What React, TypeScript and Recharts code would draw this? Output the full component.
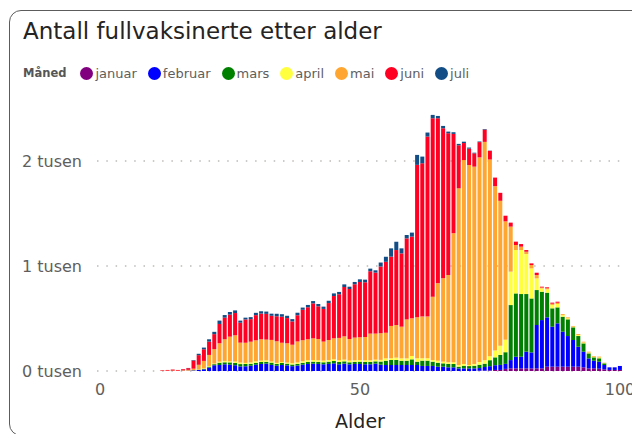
import React from 'react';
import { BarChart, Bar, XAxis, YAxis, CartesianGrid } from 'recharts';

const ages = [12, 13, 14, 15, 16, 17, 18, 19, 20, 21, 22, 23, 24, 25, 26, 27, 28, 29, 30, 31, 32, 33, 34, 35, 36, 37, 38, 39, 40, 41, 42, 43, 44, 45, 46, 47, 48, 49, 50, 51, 52, 53, 54, 55, 56, 57, 58, 59, 60, 61, 62, 63, 64, 65, 66, 67, 68, 69, 70, 71, 72, 73, 74, 75, 76, 77, 78, 79, 80, 81, 82, 83, 84, 85, 86, 87, 88, 89, 90, 91, 92, 93, 94, 95, 96, 97, 98, 99, 100];

const januar = [0, 0, 0, 0, 0, 0, 0, 0, 0, 0, 0, 0, 0, 0, 0, 0, 0, 0, 0, 0, 0, 0, 0, 0, 0, 0, 0, 0, 0, 0, 0, 0, 0, 0, 0, 0, 0, 0, 0, 0, 0, 0, 0, 0, 0, 0, 0, 0, 0, 0, 0, 0, 0, 0, 0, 0, 0, 0, 0, 0, 0, 3, 3, 5, 10, 10, 20, 25, 25, 25, 25, 25, 25, 25, 41, 41, 41, 41, 41, 41, 41, 35, 25, 25, 22, 16, 10, 10, 10];
const februar = [0, 0, 0, 0, 2, 3, 5, 10, 16, 32, 55, 57, 64, 60, 55, 44, 45, 50, 60, 67, 70, 58, 50, 57, 54, 46, 52, 60, 67, 70, 67, 64, 67, 73, 64, 70, 64, 67, 67, 64, 64, 70, 60, 57, 57, 57, 57, 57, 57, 57, 48, 48, 48, 41, 41, 35, 35, 25, 25, 25, 25, 25, 35, 41, 45, 48, 48, 79, 111, 111, 159, 152, 413, 460, 470, 381, 413, 333, 292, 254, 190, 149, 95, 73, 67, 41, 25, 25, 38];
const mars = [0, 0, 0, 0, 0, 0, 2, 2, 5, 10, 10, 22, 19, 22, 22, 22, 22, 19, 18, 19, 17, 22, 17, 20, 16, 16, 16, 18, 19, 19, 19, 19, 22, 22, 22, 22, 19, 19, 22, 22, 22, 22, 30, 41, 48, 48, 41, 41, 54, 32, 51, 51, 41, 38, 32, 32, 32, 16, 25, 22, 25, 32, 32, 57, 75, 95, 111, 524, 603, 597, 549, 514, 333, 270, 235, 175, 152, 143, 159, 121, 102, 79, 48, 32, 32, 16, 0, 0, 0];
const april = [0, 0, 0, 0, 0, 0, 0, 2, 5, 6, 6, 10, 13, 10, 13, 14, 10, 12, 14, 13, 15, 10, 10, 8, 10, 13, 13, 15, 16, 16, 16, 16, 16, 16, 16, 16, 16, 16, 16, 16, 16, 16, 16, 22, 16, 22, 22, 22, 32, 32, 22, 22, 16, 19, 16, 16, 16, 16, 16, 10, 16, 25, 32, 38, 65, 88, 119, 318, 413, 419, 381, 286, 111, 32, 32, 32, 32, 15, 10, 6, 10, 8, 8, 6, 8, 3, 0, 0, 0];
const mai = [2, 3, 4, 3, 5, 8, 15, 45, 70, 105, 137, 175, 206, 235, 250, 190, 192, 198, 200, 203, 197, 206, 206, 184, 184, 175, 200, 200, 200, 206, 203, 181, 190, 200, 213, 222, 206, 216, 216, 222, 254, 248, 254, 244, 308, 311, 302, 371, 359, 391, 397, 397, 603, 737, 794, 832, 1229, 1683, 1943, 1905, 1880, 1949, 2080, 1873, 1565, 1380, 1127, 429, 48, 32, 22, 32, 32, 8, 10, 12, 12, 10, 9, 7, 9, 8, 8, 7, 8, 3, 0, 0, 0];
const juni = [5, 7, 10, 7, 10, 16, 78, 92, 111, 127, 143, 184, 206, 210, 212, 190, 222, 215, 240, 245, 245, 230, 238, 248, 240, 222, 250, 290, 305, 333, 311, 311, 352, 403, 416, 470, 476, 508, 527, 521, 594, 581, 635, 676, 660, 714, 698, 772, 778, 1451, 1460, 1715, 1699, 1572, 1429, 1349, 946, 410, 162, 156, 127, 146, 117, 83, 82, 76, 54, 38, 32, 25, 16, 16, 22, 8, 9, 10, 10, 0, 0, 0, 0, 0, 0, 0, 0, 0, 0, 0, 0];
const juli = [0, 0, 0, 0, 0, 2, 5, 13, 16, 22, 22, 32, 25, 25, 25, 20, 17, 19, 22, 22, 22, 20, 24, 24, 22, 22, 24, 21, 22, 22, 22, 22, 22, 25, 22, 25, 22, 22, 25, 25, 25, 22, 38, 48, 79, 79, 48, 32, 38, 95, 64, 38, 32, 22, 22, 16, 16, 13, 13, 10, 6, 6, 6, 2, 0, 0, 0, 0, 0, 0, 0, 0, 0, 0, 0, 0, 0, 0, 0, 0, 0, 0, 0, 0, 0, 0, 0, 0, 0];

const seriesNames = ['januar', 'februar', 'mars', 'april', 'mai', 'juni', 'juli'];
const seriesValues = [januar, februar, mars, april, mai, juni, juli];
const seriesColors = ['#800080', '#0000FF', '#008000', '#FFFF40', '#FFA630', '#FF0022', '#124E85'];

const yTicks = [0, 1000, 2000];
const xTicks = [0, 50, 100];

const data = ages.map((age, i) => {
  const row: Record<string, number> = { age };
  seriesNames.forEach((name, s) => {
    row[name] = seriesValues[s][i];
  });
  return row;
});

const FONT = '"DejaVu Sans", sans-serif';

export default function App() {
  return (
    <div
      style={{
        position: 'absolute',
        left: 0,
        top: 0,
        width: 632,
        height: 434,
        overflow: 'hidden',
        background: '#ffffff',
        fontFamily: FONT,
      }}
    >
      <div
        style={{
          position: 'absolute',
          left: 9,
          top: 10,
          width: 660,
          height: 426,
          border: '1.5px solid #5c5c5c',
          borderRadius: 12,
          boxSizing: 'border-box',
        }}
      />
      <div
        style={{
          position: 'absolute',
          left: 23,
          top: 19.5,
          fontSize: 23,
          lineHeight: '23px',
          color: '#252423',
          whiteSpace: 'nowrap',
        }}
      >
        Antall fullvaksinerte etter alder
      </div>
      <div
        style={{
          position: 'absolute',
          left: 23,
          top: 66,
          height: 14,
          display: 'flex',
          alignItems: 'center',
          fontSize: 13,
          color: '#605E5C',
          whiteSpace: 'nowrap',
        }}
      >
        <span style={{ fontWeight: 'bold', fontSize: 11.5, color: '#555555', marginRight: 14 }}>Måned</span>
        {seriesNames.map((name, i) => (
          <span key={name} style={{ display: 'flex', alignItems: 'center', marginRight: 11 }}>
            <span
              style={{
                display: 'inline-block',
                width: 13,
                height: 13,
                borderRadius: '50%',
                background: seriesColors[i],
                marginRight: 2,
              }}
            />
            <span>{name}</span>
          </span>
        ))}
      </div>
      <div style={{ position: 'absolute', left: 0, top: 0 }}>
        <BarChart
          width={632}
          height={434}
          data={data}
          margin={{ top: 108.5, right: 9, bottom: 3, left: 0 }}
          barCategoryGap={0.5}
        >
          <CartesianGrid
            vertical={false}
            horizontalValues={yTicks}
            stroke="#BDBBB9"
            strokeDasharray="1.5 7.8"
            strokeWidth={1.5}
          />
          <XAxis
            dataKey="age"
            type="number"
            domain={[0, 100]}
            ticks={xTicks}
            padding={{ left: 3, right: 3 }}
            axisLine={false}
            tickLine={false}
            tickSize={0}
            tickMargin={13}
            height={60}
            tick={{ fill: '#605E5C', fontSize: 16, fontFamily: FONT }}
            label={{ value: 'Alder', position: 'insideBottom', offset: 3, fill: '#252423', fontSize: 19, fontFamily: FONT }}
          />
          <YAxis
            width={97}
            domain={[0, 2500]}
            ticks={yTicks}
            tickFormatter={(v: number) => `${v / 1000} tusen`}
            axisLine={false}
            tickLine={false}
            tickSize={0}
            tickMargin={15}
            tick={{ fill: '#605E5C', fontSize: 16, fontFamily: FONT }}
          />
          {seriesNames.map((name, i) => (
            <Bar key={name} dataKey={name} stackId="a" fill={seriesColors[i]} isAnimationActive={false} />
          ))}
        </BarChart>
      </div>
    </div>
  );
}
